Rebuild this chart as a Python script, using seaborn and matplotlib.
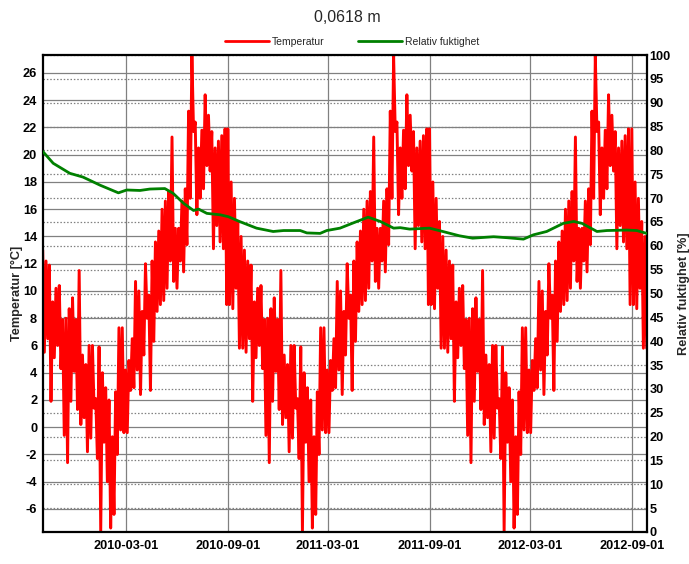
import matplotlib
matplotlib.use("Agg")
import matplotlib.pyplot as plt
import matplotlib.dates as mdates
from matplotlib.lines import Line2D
from matplotlib import font_manager
import pandas as pd
import seaborn as sns

# ---------------- data ----------------
TITLE = "0,0618 m"
TEMP_LABEL = "Temperatur"
RH_LABEL = "Relativ fuktighet"
YLABEL_LEFT = "Temperatur [°C]"
YLABEL_RIGHT = "Relativ fuktighet [%]"

x_tick_dates = ["2010-03-01", "2010-09-01", "2011-03-01",
                "2011-09-01", "2012-03-01", "2012-09-01"]
temp_ticks = list(range(-6, 27, 2))
rh_ticks = list(range(0, 101, 5))
X_START, X_END = "2009-10-01", "2012-09-28"

# Temperature envelope read in 6-day blocks starting 1 September
# (high, then low of each block); the record repeats identically each year.
temp_block_high = [21.9, 18.0, 16.8, 15.1, 14.0, 13.0, 12.2, 11.9, 9.2, 10.2,
                   10.4, 7.9, 8.0, 8.7, 9.5, 7.9,
                   11.5, 5.3, 4.6, 6.0, 6.0, 2.1, 5.9, 4.0, 2.9, 2.0,
                   -0.7, 2.6, 7.3, 7.3, 4.2,
                   4.9, 6.5, 10.7, 10.0, 8.5, 12.0, 9.7, 12.2, 13.6, 14.4,
                   16.0, 16.6, 17.3, 21.3, 14.6,
                   14.6, 16.6, 17.5, 23.2, 27.3, 22.4, 20.5, 21.8, 24.4, 22.9,
                   21.7, 20.5, 21.0, 21.4, 21.9]
temp_block_low = [9.0, 8.7, 10.2, 5.8, 5.8, 5.5, 6.5, 1.9, 5.1, 6.0,
                  4.3, -0.6, -2.6, 1.9, 4.1, 1.3,
                  0.2, 0.7, -1.8, -0.8, 1.4, -2.3, -7.7, -1.1, -4.0, -7.4,
                  -6.4, -2.0, -0.2, -0.4, -0.4,
                  2.7, 2.9, 4.2, 2.4, 5.3, 8.0, 2.7, 6.3, 8.5, 9.0,
                  9.3, 10.2, 12.2, 10.7, 10.2,
                  12.2, 11.4, 13.4, 16.8, 21.7, 15.6, 16.8, 17.5, 19.2, 18.8,
                  13.1, 14.8, 13.6, 13.1, 9.0]
temp_cycle_years = [2009, 2010, 2011, 2012]

rh_dates = ["2009-10-01", "2009-10-20", "2009-11-19", "2009-12-13", "2010-01-13",
            "2010-02-15", "2010-03-02", "2010-03-26", "2010-04-13", "2010-05-10",
            "2010-05-25", "2010-06-13", "2010-07-01", "2010-07-10", "2010-07-25",
            "2010-08-18", "2010-09-02", "2010-09-22", "2010-10-23", "2010-11-22",
            "2010-12-11", "2011-01-10", "2011-01-22", "2011-02-15", "2011-02-27",
            "2011-03-23", "2011-04-16", "2011-05-13", "2011-06-04", "2011-06-28",
            "2011-07-10", "2011-07-27", "2011-09-01", "2011-09-25", "2011-10-25",
            "2011-11-18", "2011-12-26", "2012-01-19", "2012-02-18", "2012-03-07",
            "2012-03-31", "2012-04-30", "2012-05-19", "2012-06-03", "2012-06-30",
            "2012-07-18", "2012-08-23", "2012-09-10", "2012-09-28"]
rh_values = [79.8, 77.3, 75.2, 74.4, 72.7,
             71.1, 71.7, 71.6, 71.9, 72.0,
             71.0, 68.9, 67.4, 67.7, 66.8,
             66.5, 66.1, 65.1, 63.7, 63.0,
             63.2, 63.2, 62.7, 62.6, 63.2,
             63.7, 64.8, 66.0, 65.1, 63.7,
             63.8, 63.5, 63.7, 63.0, 62.1,
             61.6, 61.9, 61.7, 61.4, 62.3,
             63.0, 64.7, 65.1, 64.7, 63.0,
             63.2, 63.3, 63.2, 62.6]

# ---------------- tables ----------------
rows = []
for yr in temp_cycle_years:
    start = pd.Timestamp(f"{yr}-09-01")
    for i, (hi, lo) in enumerate(zip(temp_block_high, temp_block_low)):
        rows.append((start + pd.Timedelta(days=6 * i), hi))
        rows.append((start + pd.Timedelta(days=6 * i + 3), lo))
df_t = pd.DataFrame(rows, columns=["date", "temp"])
lo_lim = pd.Timestamp(X_START) - pd.Timedelta(days=3)
hi_lim = pd.Timestamp(X_END) + pd.Timedelta(days=3)
df_t = df_t[(df_t["date"] >= lo_lim) & (df_t["date"] <= hi_lim)].reset_index(drop=True)

df_rh = pd.DataFrame({"date": pd.to_datetime(rh_dates), "rh": rh_values})

# ---------------- style ----------------
sns.set_style("white")


def pick(fams):
    for f in fams:
        try:
            font_manager.findfont(f, fallback_to_default=False)
            return f
        except Exception:
            pass
    return "DejaVu Sans"


NARROW = pick(["Liberation Sans Narrow", "Arial Narrow"])
REG = pick(["Liberation Sans", "Arial", "DejaVu Sans"])
IS_NARROW = NARROW in ("Liberation Sans Narrow", "Arial Narrow")
if not IS_NARROW:
    NARROW = REG
plt.rcParams["font.family"] = [REG, "DejaVu Sans"]
plt.rcParams["axes.unicode_minus"] = False
TICK_FS = 10.5 if IS_NARROW else 9.2

RED = "#ff0000"
GREEN = "#008000"
GRID = "#808080"

fig = plt.figure(figsize=(6.89, 5.64), dpi=100)
W, H = 689.0, 564.0
L, R, T, B = 42.7, 646.7, 55.0, 532.0
rect = [L / W, 1 - B / H, (R - L) / W, (B - T) / H]

ax1 = fig.add_axes(rect)      # temperature (left)
axg = ax1.twinx()             # right scale + dotted grid (bottom layer)
axh = ax1.twinx()             # humidity line (top layer)
axg.set_zorder(0)
ax1.set_zorder(1)
axh.set_zorder(2)
axg.patch.set_visible(True)
axg.patch.set_facecolor("white")
ax1.patch.set_visible(False)
axh.patch.set_visible(False)

sns.lineplot(data=df_t, x="date", y="temp", ax=ax1, color=RED, lw=2.1,
             estimator=None, sort=False, legend=False)
sns.lineplot(data=df_rh, x="date", y="rh", ax=axh, color=GREEN, lw=2.0,
             estimator=None, sort=False, legend=False)

# axes limits
ax1.set_xlim(pd.Timestamp(X_START), pd.Timestamp(X_END))
ax1.set_ylim(-7.69, 27.32)
axg.set_ylim(0, 100)
axh.set_ylim(0, 100)

# ticks
ax1.set_xticks(pd.to_datetime(x_tick_dates))
ax1.xaxis.set_major_formatter(mdates.DateFormatter("%Y-%m-%d"))
ax1.set_yticks(temp_ticks)
axg.set_yticks(rh_ticks)
axh.set_yticks([])

for lab in ax1.get_xticklabels() + ax1.get_yticklabels() + axg.get_yticklabels():
    lab.set_fontfamily([NARROW, "DejaVu Sans"])
    lab.set_fontweight("bold")
    lab.set_fontsize(TICK_FS)
    lab.set_color("black")

ax1.tick_params(axis="both", length=0, pad=4)
ax1.tick_params(axis="x", pad=6)
axg.tick_params(axis="y", length=0, pad=2, right=True, labelright=True)
axh.tick_params(axis="both", length=0, labelright=False, right=False)

# grids
ax1.grid(True, axis="both", color=GRID, lw=0.9, ls="-")
axg.grid(True, axis="y", color=GRID, lw=0.9, ls=(0, (1.2, 1.5)))
axg.grid(False, axis="x")
axh.grid(False)

# spines
for ax in (axg, axh):
    for s in ax.spines.values():
        s.set_visible(False)
for s in ax1.spines.values():
    s.set_visible(True)
    s.set_color("black")
    s.set_linewidth(1.6)

# labels
ax1.set_xlabel("")
axh.set_xlabel("")
axg.set_xlabel("")
axh.set_ylabel("")
ax1.set_ylabel(YLABEL_LEFT, family=[NARROW, "DejaVu Sans"], weight="bold",
               size=TICK_FS, labelpad=0)
axg.set_ylabel(YLABEL_RIGHT, family=[NARROW, "DejaVu Sans"], weight="bold",
               size=TICK_FS, labelpad=5, rotation=90)

# title and legend
fig.text(347 / W, 1 - 17 / H, TITLE, ha="center", va="center",
         fontsize=11.5, family=[REG, "DejaVu Sans"])
handles = [Line2D([], [], color=RED, lw=2.0), Line2D([], [], color=GREEN, lw=2.0)]
fig.legend(handles, [TEMP_LABEL, RH_LABEL], loc="center",
           bbox_to_anchor=(352 / W, 1 - 42 / H), ncol=2, frameon=False,
           prop=dict(family=[REG, "DejaVu Sans"], size=7.5),
           handlelength=4.2, handletextpad=0.3, columnspacing=3.2,
           borderpad=0, borderaxespad=0)

fig.savefig("out.png", dpi=100)
